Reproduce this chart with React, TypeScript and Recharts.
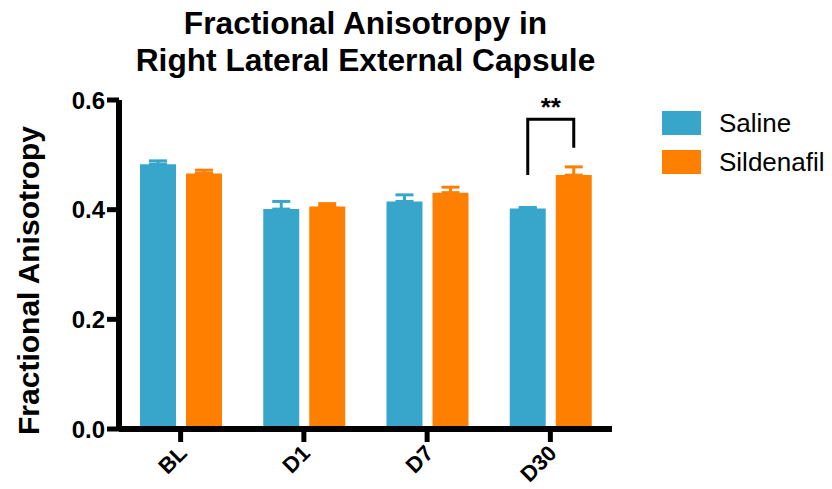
import React from 'react';
import { BarChart, Bar, XAxis, YAxis, ErrorBar } from 'recharts';

const FONT = '"Liberation Sans", Arial, sans-serif';

// data
const categories = ['BL', 'D1', 'D7', 'D30'];
const salineMean = [0.483, 0.401, 0.415, 0.402];
const salineSem = [0.006, 0.014, 0.012, 0.002];
const sildenafilMean = [0.466, 0.406, 0.431, 0.463];
const sildenafilSem = [0.006, 0.005, 0.010, 0.015];
const yTicks = [0, 0.2, 0.4, 0.6];

const series = [
  { key: 'saline', name: 'Saline', color: '#38A6CA' },
  { key: 'sildenafil', name: 'Sildenafil', color: '#FF7F00' },
];

// significance bracket over D30 (saline vs sildenafil)
const bracketIndex = 3;
const bracketLeft = 0.463;
const bracketRight = 0.513;
const bracketTop = 0.565;
const bracketText = '**';

const BAR_SIZE = 36;
const BAR_GAP = 10;

const data = categories.map((name, i) => ({
  name,
  saline: salineMean[i],
  salineErr: [0, salineSem[i]],
  sildenafil: sildenafilMean[i],
  sildenafilErr: [0, sildenafilSem[i]],
}));

const XTick = ({ x, y, payload }: any) => (
  <g transform={`translate(${x - 3},${y})`}>
    <text
      x={0}
      y={0}
      dy={15}
      textAnchor="end"
      transform="rotate(-45)"
      fontSize={22}
      fontWeight="bold"
      fill="#000"
      fontFamily={FONT}
    >
      {payload.value}
    </text>
  </g>
);

const renderBracket = (props: any) => {
  const { x, y, width, height, value, index } = props;
  if (index !== bracketIndex) return null;
  const base = Number(y) + Number(height);
  const perUnit = Number(height) / Number(value);
  const yAt = (v: number) => base - v * perUnit;
  const x1 = Number(x) + Number(width) / 2;
  const x2 = x1 + Number(width) + BAR_GAP;
  return (
    <g>
      <polyline
        points={`${x1},${yAt(bracketLeft)} ${x1},${yAt(bracketTop)} ${x2},${yAt(bracketTop)} ${x2},${yAt(bracketRight)}`}
        fill="none"
        stroke="#000"
        strokeWidth={3}
      />
      <text
        x={(x1 + x2) / 2}
        y={yAt(bracketTop) - 3}
        textAnchor="middle"
        fontSize={26}
        fontWeight="bold"
        fontFamily={FONT}
        fill="#000"
      >
        {bracketText}
      </text>
    </g>
  );
};

const App = () => {
  return (
    <div style={{ position: 'absolute', left: 0, top: 0, width: 832, height: 489, background: '#fff', fontFamily: FONT }}>
      <div
        style={{
          position: 'absolute',
          left: 0,
          width: 731,
          top: 5,
          textAlign: 'center',
          fontSize: 31.7,
          fontWeight: 'bold',
          lineHeight: '37px',
          color: '#000',
        }}
      >
        Fractional Anisotropy in
        <br />
        Right Lateral External Capsule
      </div>

      <BarChart
        width={832}
        height={489}
        data={data}
        margin={{ top: 100, right: 220, bottom: 10, left: 59 }}
        barSize={BAR_SIZE}
        barGap={BAR_GAP}
      >
        <XAxis
          dataKey="name"
          height={50}
          axisLine={{ stroke: '#000', strokeWidth: 6 }}
          tickLine={{ stroke: '#000', strokeWidth: 5 }}
          tickSize={13}
          tick={<XTick />}
          interval={0}
        />
        <YAxis
          width={60}
          domain={[0, 0.6]}
          ticks={yTicks}
          tickFormatter={(v: number) => v.toFixed(1)}
          axisLine={{ stroke: '#000', strokeWidth: 6 }}
          tickLine={{ stroke: '#000', strokeWidth: 5 }}
          tickSize={12}
          tickMargin={2}
          tick={{ fill: '#000', fontSize: 24, fontWeight: 'bold', fontFamily: FONT }}
          label={{
            content: ({ viewBox }: any) => (
              <text
                transform={`translate(${viewBox.x - 20},${viewBox.y + viewBox.height / 2 + 16}) rotate(-90)`}
                textAnchor="middle"
                fontSize={30}
                fontWeight="bold"
                fontFamily={FONT}
                fill="#000"
              >
                Fractional Anisotropy
              </text>
            ),
          }}
        />
        <Bar dataKey="saline" name="Saline" fill={series[0].color} isAnimationActive={false} label={renderBracket}>
          <ErrorBar dataKey="salineErr" direction="y" width={9} strokeWidth={3} stroke={series[0].color} />
        </Bar>
        <Bar dataKey="sildenafil" name="Sildenafil" fill={series[1].color} isAnimationActive={false}>
          <ErrorBar dataKey="sildenafilErr" direction="y" width={9} strokeWidth={3} stroke={series[1].color} />
        </Bar>
      </BarChart>

      <div style={{ position: 'absolute', left: 662, top: 111 }}>
        {series.map((s) => (
          <div key={s.key} style={{ display: 'flex', alignItems: 'center', height: 24, marginBottom: 15 }}>
            <div style={{ width: 39, height: 24, background: s.color }} />
            <span style={{ marginLeft: 18, fontSize: 26, color: '#000' }}>{s.name}</span>
          </div>
        ))}
      </div>
    </div>
  );
};

export default App;
